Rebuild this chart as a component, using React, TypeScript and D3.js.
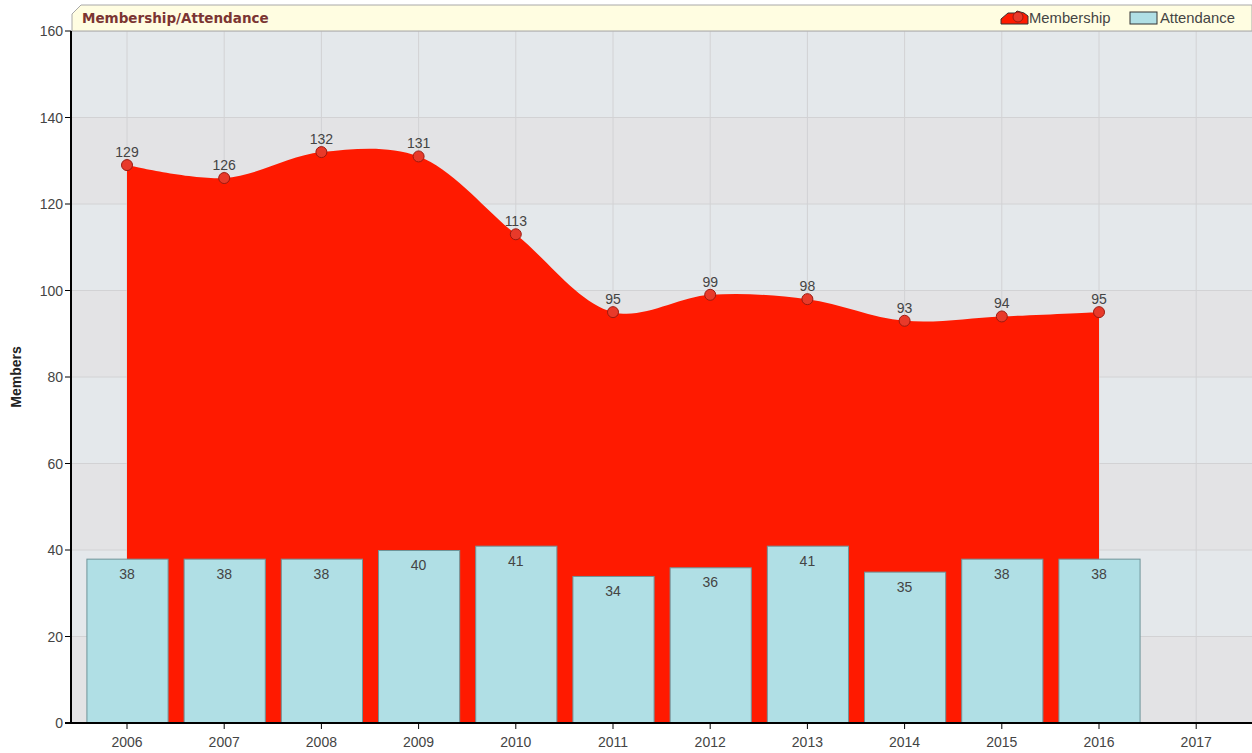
import * as d3 from "d3";

const years = [2006, 2007, 2008, 2009, 2010, 2011, 2012, 2013, 2014, 2015, 2016, 2017];
const membership = [129, 126, 132, 131, 113, 95, 99, 98, 93, 94, 95];
const attendance = [38, 38, 38, 40, 41, 34, 36, 41, 35, 38, 38];
const yTicks = [0, 20, 40, 60, 80, 100, 120, 140, 160];

const W = 1252;
const H = 753;
const left = 71;
const top = 31;
const bottom = 723;
const right = 1252;
const font = "'Liberation Sans', Arial, sans-serif";

export default function App() {
  const x = d3
    .scaleBand<number>()
    .domain(years)
    .range([78.4, 78.4 + 97.2 * years.length])
    .paddingInner(0.165)
    .paddingOuter(0.0825);
  const cx = (yr: number) => (x(yr) ?? 0) + x.bandwidth() / 2;
  const y = d3.scaleLinear().domain([0, 160]).range([bottom, top]);

  const memPts = membership.map((v, i) => ({ year: years[i], v }));
  const area = d3
    .area<{ year: number; v: number }>()
    .x((d) => cx(d.year))
    .y0(y(0))
    .y1((d) => y(d.v))
    .curve(d3.curveCatmullRom.alpha(0.5));

  const stripes = d3.range(0, 160, 20);

  return (
    <svg width={W} height={H} style={{ position: "absolute", left: 0, top: 0, fontFamily: font }}>
      <rect x={0} y={0} width={W} height={H} fill="#ffffff" />
      {/* stripes */}
      {stripes.map((s) => (
        <rect
          key={s}
          x={left}
          y={y(s + 20)}
          width={right - left}
          height={y(s) - y(s + 20)}
          fill={(s / 20) % 2 === 0 ? "#e3e3e5" : "#e4e8eb"}
        />
      ))}
      {yTicks.map((t) => (
        <line key={t} x1={left} x2={right} y1={y(t)} y2={y(t)} stroke="#d2d2d4" strokeWidth={1} />
      ))}
      {years.map((yr) => (
        <line key={yr} x1={cx(yr)} x2={cx(yr)} y1={top} y2={bottom} stroke="#d2d2d4" strokeWidth={1} />
      ))}

      {/* title bar */}
      <path
        d={`M${left + 1},${top} L${left + 1},${14} L${left + 10},${5} L${right},${5} L${right},${top} Z`}
        fill="#fffde1"
        stroke="#a8a8a8"
        strokeWidth={1}
      />
      <text x={82} y={23} fill="#7b3532" fontWeight="bold" fontFamily="'DejaVu Sans', Verdana, sans-serif" style={{ fontSize: 13.5 }}>
        Membership/Attendance
      </text>

      {/* legend */}
      <g>
        <path d="M1001,24 L1001,19 L1008,13 L1015,13 L1017,11 L1024,13 L1028,16 L1028,24 Z" fill="#ff1a00" stroke="#333" strokeWidth={1} />
        <circle cx={1018} cy={17} r={5} fill="#e83a2a" stroke="#9b1a10" strokeWidth={1} />
        <text x={1029} y={23} fontSize={14.8} fill="#444">Membership</text>
        <rect x={1130} y={12} width={27} height={12} fill="#b0dfe5" stroke="#333" strokeWidth={1} />
        <text x={1160} y={23} fontSize={14.8} fill="#444">Attendance</text>
      </g>

      {/* membership area */}
      <path d={area(memPts) ?? ""} fill="#ff1a00" />

      {/* attendance bars */}
      {attendance.map((v, i) => (
        <g key={years[i]}>
          <rect
            x={(x(years[i]) ?? 0) + 0.5}
            y={y(v) + 0.5}
            width={x.bandwidth()}
            height={y(0) - y(v)}
            fill="#b0dfe5"
            stroke="#6e9499"
            strokeWidth={1}
          />
          <text x={cx(years[i])} y={y(v) + 20} textAnchor="middle" fontSize={14} fill="#444">
            {v}
          </text>
        </g>
      ))}

      {/* membership markers */}
      {memPts.map((d) => (
        <g key={d.year}>
          <circle cx={cx(d.year)} cy={y(d.v)} r={5.5} fill="#e83a2a" stroke="#9b1a10" strokeWidth={1} />
          <text x={cx(d.year)} y={y(d.v) - 8} textAnchor="middle" fontSize={14} fill="#444">
            {d.v}
          </text>
        </g>
      ))}

      {/* axes */}
      <line x1={left} x2={left} y1={top} y2={bottom} stroke="#000" strokeWidth={2} />
      <line x1={left - 6} x2={right} y1={bottom} y2={bottom} stroke="#000" strokeWidth={2} />
      {yTicks.map((t) => (
        <g key={t}>
          <line x1={left - 6} x2={left} y1={y(t)} y2={y(t)} stroke="#000" strokeWidth={1} />
          <text x={left - 8} y={y(t) + 5} textAnchor="end" fontSize={14} fill="#444">
            {t}
          </text>
        </g>
      ))}
      {years.map((yr) => (
        <g key={yr}>
          <line x1={cx(yr)} x2={cx(yr)} y1={bottom} y2={bottom + 6} stroke="#000" strokeWidth={1} />
          <text x={cx(yr)} y={bottom + 24} textAnchor="middle" fontSize={14} fill="#444">
            {yr}
          </text>
        </g>
      ))}
      <text
        transform={`translate(21,${(top + bottom) / 2}) rotate(-90)`}
        textAnchor="middle"
        fontSize={14}
        fontWeight="bold"
        fill="#222"
      >
        Members
      </text>
    </svg>
  );
}
